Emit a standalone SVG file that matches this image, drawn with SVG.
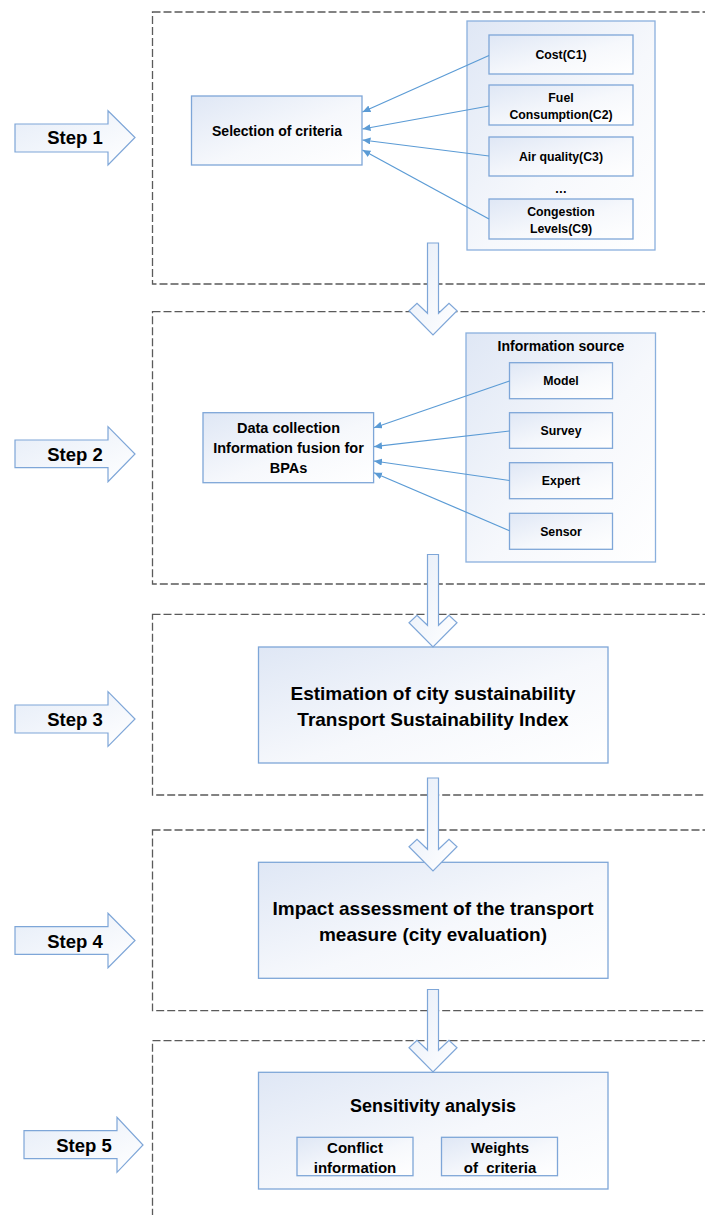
<svg xmlns="http://www.w3.org/2000/svg" width="705" height="1215" viewBox="0 0 705 1215">
  <defs>
    <linearGradient id="gBox" x1="0" y1="0" x2="1" y2="1">
      <stop offset="0" stop-color="#dfe7f5"/>
      <stop offset="0.55" stop-color="#f6f8fc"/>
      <stop offset="1" stop-color="#ffffff"/>
    </linearGradient>
    <linearGradient id="gArrow" x1="0" y1="0" x2="1" y2="1">
      <stop offset="0" stop-color="#e6edf8"/>
      <stop offset="1" stop-color="#ffffff"/>
    </linearGradient>
    <marker id="ah" markerUnits="userSpaceOnUse" markerWidth="9" markerHeight="8" refX="8" refY="3.5" orient="auto">
      <path d="M0,0 L8,3.5 L0,7 z" fill="#5b9bd5"/>
    </marker>
    <style>
      .dash { fill: none; stroke: #5a5a5a; stroke-width: 1.3; stroke-dasharray: 8 3; }
      .box { fill: url(#gBox); stroke: #7ea6d8; stroke-width: 1.3; }
      .cont { fill: url(#gBox); stroke: #8ab0dd; stroke-width: 1.3; }
      .blk { fill: url(#gArrow); stroke: #7ea6d8; stroke-width: 1.2; stroke-linejoin: miter; }
      .conn { fill: none; stroke: #5b9bd5; stroke-width: 1.2; marker-end: url(#ah); }
      text { font-family: "Liberation Sans", Arial, sans-serif; font-weight: bold; fill: #000; text-anchor: middle; }
      .step { font-size: 18.5px; }
      .s12 { font-size: 12.3px; }
      .s14 { font-size: 14px; }
      .s145 { font-size: 14.5px; }
      .s15 { font-size: 15px; }
      .s18 { font-size: 18px; }
      .s19 { font-size: 19px; }
    </style>
  </defs>

  <!-- dashed step frames -->
  <g id="frames">
    <rect class="dash" x="152.5" y="12" width="570" height="272"/>
    <rect class="dash" x="152.5" y="311.7" width="570" height="272.3"/>
    <rect class="dash" x="152.5" y="614.3" width="570" height="180.7"/>
    <rect class="dash" x="152.5" y="830" width="570" height="180.7"/>
    <rect class="dash" x="152.5" y="1040.7" width="570" height="200"/>
  </g>

  <!-- Step arrows -->
  <g id="step1">
    <polygon class="blk" points="15,124 108,124 108,110.7 135,137.5 108,165 108,152 15,152"/>
    <text class="step" x="75" y="144">Step 1</text>
  </g>
  <g id="step2">
    <polygon class="blk" points="15,440 108,440 108,426.7 135,454 108,481.7 108,467.7 15,467.7"/>
    <text class="step" x="75" y="461">Step 2</text>
  </g>
  <g id="step3">
    <polygon class="blk" points="15,705 108,705 108,691.7 135,719 108,746.3 108,733 15,733"/>
    <text class="step" x="75" y="726">Step 3</text>
  </g>
  <g id="step4">
    <polygon class="blk" points="15,926.7 108,926.7 108,913.3 135,940.5 108,967.7 108,954.3 15,954.3"/>
    <text class="step" x="75" y="948">Step 4</text>
  </g>
  <g id="step5">
    <polygon class="blk" points="24,1130.7 117,1130.7 117,1117.3 143,1145 117,1172.3 117,1158.7 24,1158.7"/>
    <text class="step" x="84" y="1152">Step 5</text>
  </g>

  <!-- Step 1 content -->
  <g id="criteria-container">
    <rect class="cont" x="467" y="21" width="188" height="229"/>
  </g>
  <g id="selection">
    <rect class="box" x="191.5" y="96" width="170.5" height="69"/>
    <text class="s14" x="277" y="135.5">Selection of criteria</text>
  </g>
  <g id="c1">
    <rect class="box" x="489" y="35" width="144" height="39"/>
    <text class="s12" x="561" y="58.5">Cost(C1)</text>
  </g>
  <g id="c2">
    <rect class="box" x="489" y="85" width="144" height="40"/>
    <text class="s12" x="561" y="101.5">Fuel</text>
    <text class="s12" x="561" y="118.5">Consumption(C2)</text>
  </g>
  <g id="c3">
    <rect class="box" x="489" y="137" width="144" height="39"/>
    <text class="s12" x="561" y="161">Air quality(C3)</text>
  </g>
  <g id="ellipsis">
    <text class="s12" x="561" y="193">…</text>
  </g>
  <g id="c9">
    <rect class="box" x="489" y="199" width="144" height="40"/>
    <text class="s12" x="561" y="215.5">Congestion</text>
    <text class="s12" x="561" y="232.5">Levels(C9)</text>
  </g>

  <!-- Step 2 content -->
  <g id="info-source">
    <rect class="cont" x="466" y="333" width="189.5" height="229"/>
    <text class="s14" x="561" y="350.5">Information source</text>
  </g>
  <g id="data-collection">
    <rect class="box" x="203" y="412.7" width="170.6" height="70"/>
    <text class="s145" x="288.5" y="432.5">Data collection</text>
    <text class="s145" x="288.5" y="452.5">Information fusion for</text>
    <text class="s145" x="288.5" y="473">BPAs</text>
  </g>
  <g id="model">
    <rect class="box" x="509.5" y="362.7" width="103" height="36"/>
    <text class="s12" x="561" y="385">Model</text>
  </g>
  <g id="survey">
    <rect class="box" x="509.5" y="412.7" width="103" height="35.6"/>
    <text class="s12" x="561" y="435">Survey</text>
  </g>
  <g id="expert">
    <rect class="box" x="509.5" y="462.7" width="103" height="36"/>
    <text class="s12" x="561" y="485">Expert</text>
  </g>
  <g id="sensor">
    <rect class="box" x="509.5" y="513.3" width="103" height="36"/>
    <text class="s12" x="561" y="535.5">Sensor</text>
  </g>

  <!-- Step 3 -->
  <g id="estimation">
    <rect class="box" x="258.5" y="647" width="349.5" height="116"/>
    <text class="s19" x="433" y="700">Estimation of city sustainability</text>
    <text class="s19" x="433" y="726">Transport Sustainability Index</text>
  </g>

  <!-- Step 4 -->
  <g id="impact">
    <rect class="box" x="258.5" y="862.3" width="349.5" height="116"/>
    <text class="s19" x="433" y="915">Impact assessment of the transport</text>
    <text class="s19" x="433" y="941">measure (city evaluation)</text>
  </g>

  <!-- Step 5 -->
  <g id="sensitivity">
    <rect class="box" x="258.5" y="1072.3" width="349.5" height="116.7"/>
    <text class="s18" x="433" y="1112">Sensitivity analysis</text>
  </g>
  <g id="conflict">
    <rect class="box" x="297" y="1137.3" width="116" height="38.4"/>
    <text class="s15" x="355" y="1152.5">Conflict</text>
    <text class="s15" x="355" y="1173">information</text>
  </g>
  <g id="weights">
    <rect class="box" x="441.5" y="1137.3" width="116" height="38.4"/>
    <text class="s15" x="500" y="1152.5">Weights</text>
    <text class="s15" x="500" y="1173" xml:space="preserve">of  criteria</text>
  </g>

  <!-- connectors -->
  <g id="connectors">
    <line class="conn" x1="489" y1="55.5" x2="362.5" y2="112"/>
    <line class="conn" x1="489" y1="106" x2="362.5" y2="129"/>
    <line class="conn" x1="489" y1="156" x2="362.5" y2="140"/>
    <line class="conn" x1="489" y1="219" x2="362.5" y2="150"/>

    <line class="conn" x1="509.5" y1="381" x2="374" y2="427.7"/>
    <line class="conn" x1="509.5" y1="431" x2="374" y2="446.7"/>
    <line class="conn" x1="509.5" y1="480.5" x2="374" y2="461"/>
    <line class="conn" x1="509.5" y1="530.7" x2="374" y2="472.7"/>

    <polygon class="blk" points="427.5,243 427.5,313.3 417,303.3 409,310.7 433,335 457,310.7 449,303.3 438.5,313.3 438.5,243"/>
    <polygon class="blk" points="427.5,554.5 427.5,625.3 417,615.3 409,622.7 433,647 457,622.7 449,615.3 438.5,625.3 438.5,554.5"/>
    <polygon class="blk" points="427.5,778 427.5,849.3 417,839.3 409,846.7 433,871 457,846.7 449,839.3 438.5,849.3 438.5,778"/>
    <polygon class="blk" points="427.5,989.5 427.5,1050.3 417,1040.3 409,1047.7 433,1072 457,1047.7 449,1040.3 438.5,1050.3 438.5,989.5"/>
  </g>
</svg>
